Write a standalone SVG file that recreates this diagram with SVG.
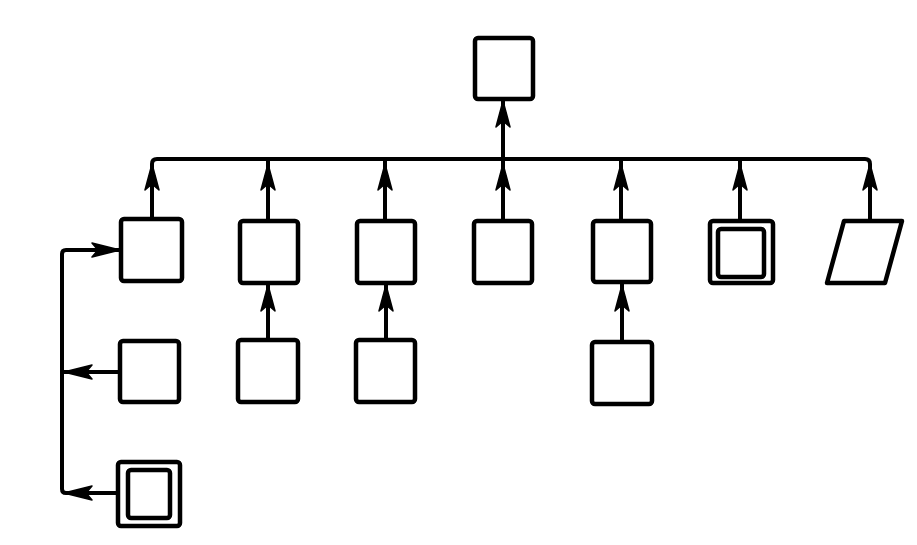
<svg xmlns="http://www.w3.org/2000/svg" width="917" height="545" viewBox="0 0 917 545">
<defs>
<style>
.b{fill:none;stroke:#000;stroke-width:4.5;stroke-linejoin:round}
.c{fill:none;stroke:#000;stroke-width:4;stroke-linejoin:round}
.h{fill:#000;stroke:#000;stroke-width:1.5;stroke-linejoin:round}
</style>
<path id="au" d="M0 0 L7 26 L0 20 L-7 26 Z"/>
<path id="al" d="M0 0 L28 -7 L22 0 L28 7 Z"/>
</defs>
<rect width="917" height="545" fill="#fff"/>
<g id="connectors">
<path class="c" d="M152 219 V164 Q152 159 157 159 H865 Q870 159 870 164 V221"/>
<path class="c" d="M503 159 V100"/>
<path class="c" d="M268 159 V221 M385 159 V221 M503 159 V221 M621 159 V221 M740 159 V221"/>
<path class="c" d="M268 283 V340 M386 283 V340 M622 283 V342"/>
<path class="c" d="M120 250 H66 Q62 250 62 254 V489 Q62 493 66 493 H118 M62 372 H120"/>
<g class="h">
<use href="#au" x="503" y="101"/>
<use href="#au" x="152" y="164"/>
<use href="#au" x="268" y="164"/>
<use href="#au" x="385" y="164"/>
<use href="#au" x="503" y="164"/>
<use href="#au" x="621" y="164"/>
<use href="#au" x="740" y="164"/>
<use href="#au" x="870" y="164"/>
<use href="#au" x="268" y="285"/>
<use href="#au" x="386" y="285"/>
<use href="#au" x="622" y="285"/>
<use href="#al" x="64" y="372"/>
<use href="#al" x="64" y="493"/>
<use href="#al" x="120" y="250" transform="rotate(180 120 250)"/>
</g>
</g>
<g id="top"><rect class="b" x="475" y="38" width="58" height="61" rx="3"/></g>
<g id="r1a"><rect class="b" x="121" y="219" width="61" height="62" rx="3"/></g>
<g id="r1b"><rect class="b" x="240" y="221" width="58" height="62" rx="3"/></g>
<g id="r1c"><rect class="b" x="357" y="221" width="58" height="62" rx="3"/></g>
<g id="r1d"><rect class="b" x="474" y="221" width="58" height="62" rx="3"/></g>
<g id="r1e"><rect class="b" x="593" y="221" width="58" height="61" rx="3"/></g>
<g id="r1f"><rect class="b" x="710" y="221" width="63" height="62" rx="3"/><rect class="b" x="718" y="229" width="46" height="48" rx="3"/></g>
<g id="r1g"><path class="b" d="M844 221 H902 L885 283 H827 Z"/></g>
<g id="r2a"><rect class="b" x="120" y="341" width="59" height="61" rx="3"/></g>
<g id="r2b"><rect class="b" x="238" y="340" width="60" height="62" rx="3"/></g>
<g id="r2c"><rect class="b" x="356" y="340" width="59" height="62" rx="3"/></g>
<g id="r2d"><rect class="b" x="592" y="342" width="60" height="62" rx="3"/></g>
<g id="r3a"><rect class="b" x="118" y="462" width="62" height="64" rx="3"/><rect class="b" x="128" y="470" width="42" height="48" rx="3"/></g>
</svg>
